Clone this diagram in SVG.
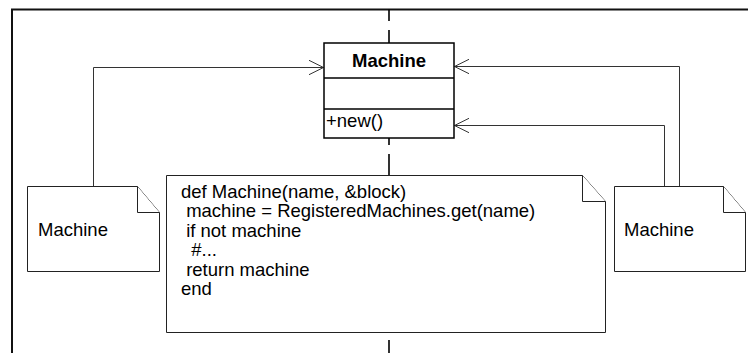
<svg xmlns="http://www.w3.org/2000/svg" width="748" height="353" viewBox="0 0 748 353">
<style>
  text { font-family: "Liberation Sans", Arial, sans-serif; font-size: 18.5px; fill: #000; }
  .bold { font-weight: bold; }
  .box { fill: #fff; stroke: #000; stroke-width: 1.5; }
  .note { fill: #fff; stroke: #222; stroke-width: 1; }
  .conn { fill: none; stroke: #333; stroke-width: 1; }
  .code { white-space: pre; }
</style>
<defs>
  <marker id="open" viewBox="0 0 16 16" markerWidth="16" markerHeight="16" refX="15" refY="7.5" orient="auto" markerUnits="userSpaceOnUse">
    <path d="M0.5,0.3 L15,7.5 L0.5,14.7" fill="none" stroke="#333" stroke-width="1"/>
  </marker>
</defs>
<rect width="748" height="353" fill="#fff"/>
<g id="frame">
  <path d="M12,353 V9.5 H748" fill="none" stroke="#111" stroke-width="2"/>
</g>
<g id="lifeline">
  <line x1="389" y1="9.5" x2="389" y2="353" stroke="#000" stroke-width="1.6" stroke-dasharray="22 9" stroke-dashoffset="10.5"/>
</g>
<g id="connectors">
  <path class="conn" d="M93.5,186 V67.5 H323.5" marker-end="url(#open)"/>
  <path class="conn" d="M679.5,186 V66.5 H454.5" marker-end="url(#open)"/>
  <path class="conn" d="M664.5,186 V125.5 H454.5" marker-end="url(#open)"/>
</g>
<g id="class-machine">
  <rect class="box" x="324" y="43" width="130" height="95"/>
  <line class="box" x1="324" y1="78" x2="454" y2="78"/>
  <line class="box" x1="324" y1="109" x2="454" y2="109"/>
  <text class="bold" x="389" y="66.5" text-anchor="middle">Machine</text>
  <text x="326" y="127">+new()</text>
</g>
<g id="note-left">
  <path class="note" d="M27.5,186.5 H137.5 L159.5,212.5 V271.5 H27.5 Z"/>
  <path class="note" d="M137.5,186.5 V212.5 H159.5"/>
  <text x="38" y="236">Machine</text>
</g>
<g id="note-code">
  <path class="note" d="M166.5,175.5 H582.5 L605.5,201.5 V332.5 H166.5 Z"/>
  <path class="note" d="M582.5,175.5 V201.5 H605.5"/>
  <text class="code" x="181" y="198" xml:space="preserve">def Machine(name, &amp;block)</text>
  <text class="code" x="181" y="217.4" xml:space="preserve"> machine = RegisteredMachines.get(name)</text>
  <text class="code" x="181" y="236.8" xml:space="preserve"> if not machine</text>
  <text class="code" x="181" y="256.2" xml:space="preserve">  #...</text>
  <text class="code" x="181" y="275.6" xml:space="preserve"> return machine</text>
  <text class="code" x="181" y="295" xml:space="preserve">end</text>
</g>
<g id="note-right">
  <path class="note" d="M614.5,186.5 H723.5 L745.5,212.5 V271.5 H614.5 Z"/>
  <path class="note" d="M723.5,186.5 V212.5 H745.5"/>
  <text x="624" y="236">Machine</text>
</g>
</svg>
